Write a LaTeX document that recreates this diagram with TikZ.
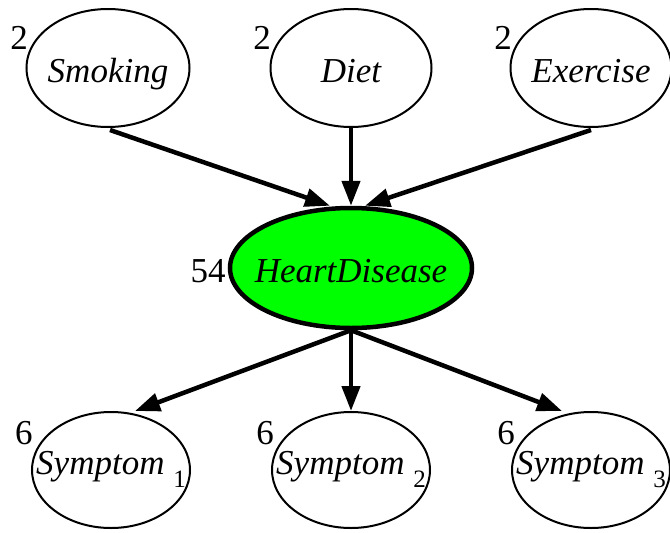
\documentclass[tikz,border=0pt]{standalone}
\usepackage{fontspec}
\setmainfont{Liberation Serif}
\usetikzlibrary{shapes.geometric,arrows.meta}
\newcommand{\symsub}[1]{\raisebox{-13pt}{\upshape\fontsize{25}{25}\selectfont #1}}
\newcommand{\ctext}[2][-14pt]{\smash{\makebox[0pt]{\raisebox{#1}{#2}}}}
\begin{document}
\begin{tikzpicture}[x=1pt,y=-1pt,
  var/.style={ellipse,draw,line width=2pt,inner sep=0pt,minimum width=161pt,minimum height=118pt,
    font=\fontsize{35}{37}\selectfont\itshape},
  hdvar/.style={var,line width=4.5pt,fill=green,minimum width=242pt,minimum height=120pt},
  symvar/.style={var,minimum width=158pt,minimum height=116pt},
  lab/.style={inner sep=0pt,font=\fontsize{35}{37}\selectfont},
  edge/.style={line width=4.5pt,-{Triangle[length=25pt,width=18pt]}}]
\useasboundingbox (0,0) rectangle (670,533);
\node[var,minimum width=163pt] (smoking) at (108,68) {\ctext{Smoking}};
\node[var] (diet) at (351,68) {\ctext{Diet}};
\node[var] (exercise) at (591,68) {\ctext{Exercise}};
\node[hdvar] (hd) at (351,268) {\ctext{HeartDisease}};
\node[symvar] (s1) at (111,470) {\ctext[-4pt]{Symptom \symsub{1}}};
\node[symvar] (s2) at (351,470) {\ctext[-4pt]{Symptom \symsub{2}}};
\node[symvar] (s3) at (591,470) {\ctext[-4pt]{Symptom \symsub{3}}};
\node[lab] (l1) at (19,38) {2};
\node[lab] (l2) at (262,38) {2};
\node[lab] (l3) at (503,38) {2};
\node[lab] (l4) at (208,271) {54};
\node[lab] (l5) at (24,433) {6};
\node[lab] (l6) at (265,433) {6};
\node[lab] (l7) at (506,433) {6};
\draw[edge] ([xshift=2pt,yshift=-2pt]smoking.south) -- ([xshift=-21pt]hd.north);
\draw[edge] (diet.south) -- (hd.north);
\draw[edge] ([yshift=-2pt]exercise.south) -- ([xshift=14pt]hd.north);
\draw[edge] (hd.south) -- ([xshift=24pt]s1.north);
\draw[edge] (hd.south) -- (s2.north);
\draw[edge] (hd.south) -- ([xshift=-29pt]s3.north);
\end{tikzpicture}
\end{document}
